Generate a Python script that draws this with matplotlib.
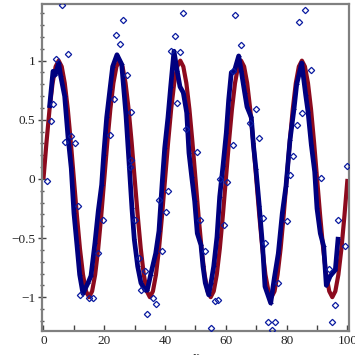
import matplotlib
matplotlib.use("Agg")
import matplotlib.pyplot as plt
from matplotlib.ticker import MultipleLocator, FixedLocator

# red reference curve, read at every unit of x
red_x = list(range(0, 101))
red_y = [0.00, 0.31, 0.59, 0.81, 0.95, 1.00, 0.95, 0.81, 0.59, 0.31,
         0.00, -0.31, -0.59, -0.81, -0.95, -1.00, -0.95, -0.81, -0.59, -0.31,
         0.00, 0.31, 0.59, 0.81, 0.95, 1.00, 0.95, 0.81, 0.59, 0.31,
         0.00, -0.31, -0.59, -0.81, -0.95, -1.00, -0.95, -0.81, -0.59, -0.31,
         0.00, 0.31, 0.59, 0.81, 0.95, 1.00, 0.95, 0.81, 0.59, 0.31,
         0.00, -0.31, -0.59, -0.81, -0.95, -1.00, -0.95, -0.81, -0.59, -0.31,
         0.00, 0.31, 0.59, 0.81, 0.95, 1.00, 0.95, 0.81, 0.59, 0.31,
         0.00, -0.31, -0.59, -0.81, -0.95, -1.00, -0.95, -0.81, -0.59, -0.31,
         0.00, 0.31, 0.59, 0.81, 0.95, 1.00, 0.95, 0.81, 0.59, 0.31,
         0.00, -0.31, -0.59, -0.81, -0.95, -1.00, -0.95, -0.81, -0.59, -0.31,
         0.00]

# blue fitted polyline
fit_x = [2.04, 3.13, 3.88, 5.0, 5.66, 6.97, 8.06, 9.14, 10.03, 11.02, 11.91, 12.99,
         14.64, 15.63, 16.94, 18.03, 19.14, 19.8, 20.79, 21.88, 22.76, 24.18, 25.72,
         27.14, 28.22, 29.11, 29.87, 30.99, 32.07, 33.39, 34.14, 35.26, 36.91, 37.99,
         39.08, 39.87, 40.95, 41.84, 42.93, 44.01, 44.9, 45.99, 47.11, 47.86, 48.75,
         49.74, 50.59, 51.81, 52.47, 53.22, 54.34, 55.1, 55.99, 57.07, 57.96, 59.05,
         60.13, 60.92, 61.78, 62.76, 64.21, 65.07, 66.18, 66.94, 68.36, 69.01, 69.9,
         70.99, 72.1, 72.86, 74.74, 75.92, 77.24, 78.55, 79.77, 81.09, 82.4, 83.29,
         84.93, 86.25, 87.01, 88.09, 89.21, 89.97, 91.05, 92.17, 93.03, 94.34, 95.99,
         96.88]
fit_y = [0.62, 0.91, 0.88, 0.98, 0.87, 0.70, 0.36, 0.09, -0.29, -0.56, -0.81, -0.97,
         -0.88, -0.82, -0.54, -0.27, -0.05, 0.20, 0.52, 0.76, 0.95, 1.05, 0.97,
         0.54, 0.11, -0.25, -0.51, -0.74, -0.88, -0.94, -0.94, -0.81, -0.63, -0.44,
         -0.02, 0.26, 0.52, 0.78, 1.08, 0.91, 0.78, 0.73, 0.56, 0.22, 0.02,
         -0.19, -0.46, -0.56, -0.74, -0.88, -0.98, -0.88, -0.74, -0.49, -0.15, 0.11,
         0.39, 0.67, 0.90, 0.91, 1.04, 0.91, 0.73, 0.61, 0.52, 0.30, 0.08,
         -0.23, -0.58, -0.91, -1.05, -0.84, -0.63, -0.29, -0.06, 0.33, 0.59, 0.80,
         0.98, 0.71, 0.57, 0.29, 0.06, -0.25, -0.46, -0.57, -0.90, -0.82, -0.77,
         -0.51]

# noisy samples
pts_x = [1.25, 2.37, 3.13, 4.21, 6.18, 8.06, 7.17, 9.14, 10.26, 11.35, 12.1, 15.13,
         16.18, 17.83, 19.47, 21.97, 23.09, 24.01, 25.07, 26.25, 27.47, 28.78, 28.78,
         28.45, 30.1, 31.32, 32.07, 34.14, 33.4, 36.12, 37.1, 39.08, 37.99, 40.2,
         40.95, 42.04, 43.16, 45.99, 44.9, 44.01, 46.88, 50.5, 51.58, 53.22, 55.2,
         56.51, 57.3, 57.96, 60.36, 59.47, 62.24, 62.24, 63.09, 64.97, 67.83, 69.9,
         70.99, 72.1, 72.86, 73.95, 75.07, 76.15, 77.24, 80.2, 81.09, 82.17, 83.29,
         85.13, 84.14, 86.12, 88.09, 91.18, 93.91, 95.0, 95.99, 96.88, 99.08, 99.93]
pts_y = [-0.02, 0.49, 0.63, 1.01, 1.47, 1.06, 0.31, 0.36, 0.30, -0.23, -0.98, -1.01,
         -1.01, -0.63, -0.35, 0.37, 0.68, 1.22, 1.14, 1.34, 0.88, 0.57, 0.16,
         0.10, -0.35, -0.67, -0.94, -1.14, -0.78, -1.01, -1.06, -0.61, -0.18, -0.28,
         -0.10, 1.08, 1.21, 1.40, 1.07, 0.64, 0.42, 0.23, -0.35, -0.61, -1.26,
         -1.03, -1.02, 0.00, -0.03, -0.39, 0.29, 0.91, 1.39, 1.13, 0.47, 0.59,
         0.35, -0.33, -0.54, -1.21, -1.28, -1.21, -0.88, -0.36, 0.03, 0.19, 0.46,
         0.56, 1.33, 1.43, 0.92, 0.01, -0.76, -1.21, -1.07, -0.35, -0.57, 0.11]

x_ticks = [0, 20, 40, 60, 80, 100]
y_ticks = [-1, -0.5, 0, 0.5, 1]
y_labels = ["\u22121", "\u22120.5", "0", "0.5", "1"]

red = "#8c0a1e"
navy = "#00007f"
frame = "#808080"

fig = plt.figure(figsize=(3.55, 3.55), dpi=100)
ax = fig.add_axes([0.119, 0.068, 0.865, 0.921])

ax.plot(red_x, red_y, color=red, lw=3.0, solid_capstyle="butt", zorder=2)
ax.plot(fit_x, fit_y, color=navy, lw=3.4, marker="+", ms=3, mew=0.8, zorder=3)
ax.plot(pts_x, pts_y, ls="none", marker="D", ms=3.2, mfc="none", mec="#0a1aa0", mew=0.9, zorder=4)

ax.set_xlim(-0.4, 100.6)
ax.set_ylim(-1.285, 1.48)

for s in ax.spines.values():
    s.set_color(frame)
    s.set_linewidth(1.6)

ax.xaxis.set_major_locator(FixedLocator(x_ticks))
ax.xaxis.set_minor_locator(MultipleLocator(10))
ax.yaxis.set_major_locator(FixedLocator(y_ticks))
ax.yaxis.set_minor_locator(MultipleLocator(0.1))
ax.set_yticklabels(y_labels)

ax.tick_params(axis="x", which="both", direction="in", length=4, width=1, color="#444444",
               top=False, pad=3)
ax.tick_params(axis="y", which="major", direction="inout", length=6, width=1, color="#444444", right=False, pad=2)
ax.tick_params(axis="y", which="minor", direction="inout", length=3, width=1, color="#555555", right=False)
for lab in ax.get_xticklabels() + ax.get_yticklabels():
    lab.set_family(["Liberation Serif", "DejaVu Serif"])
    lab.set_fontsize(9.5)
    lab.set_color("#222222")

fig.text(0.552, 0.012, "x", ha="center", va="top", fontsize=9.5,
         family=["Liberation Serif", "DejaVu Serif"], color="#222222")

fig.savefig("out.png", dpi=100)
